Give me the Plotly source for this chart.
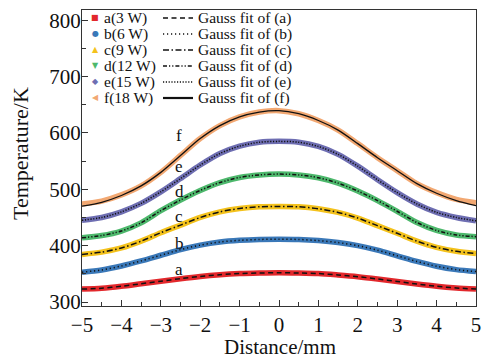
import plotly.graph_objects as go

distance = [-5, -4.5, -4, -3.5, -3, -2.5, -2, -1.5, -1, -0.5, 0,
            0.5, 1, 1.5, 2, 2.5, 3, 3.5, 4, 4.5, 5]

temp_a = [323, 324.5, 328, 332.5, 337, 341.5, 345.5, 348.5, 350.5, 351.5, 352,
          351.5, 350.5, 348, 345, 341, 336.5, 332, 328, 325, 323]
temp_b = [353, 357, 364, 373, 383, 393, 401, 406.5, 409.5, 411, 411.5,
          411, 409, 405.5, 400, 392, 382, 372, 363.5, 357.5, 354]
temp_c = [384.5, 388.5, 396, 408, 423, 436.5, 450, 460, 466, 469, 469.5,
          469, 465.5, 459, 449, 435.5, 422, 408, 397, 390, 386]
temp_d = [414, 418, 426, 440.5, 462, 481, 498, 512, 521, 525.5, 527,
          525.5, 520.5, 511, 497, 480, 461, 441, 427, 419, 416]
temp_e = [445, 450, 460, 475, 495.5, 519, 543, 563.5, 576.5, 583.5, 585,
          583.5, 576, 562, 541, 517, 494, 474, 459, 450, 444]
temp_f = [474, 479, 490, 506, 530, 560, 590, 613, 628.5, 637, 639.5,
          634, 622, 605, 581, 556, 533, 510, 494, 482, 476]
fit_f = [470, 477, 489, 506, 530, 560, 590, 613, 628.5, 637, 639.5,
         634, 622, 605, 581, 556, 533, 510, 493, 480, 471]

series_names = ["a(3 W)", "b(6 W)", "c(9 W)", "d(12 W)", "e(15 W)", "f(18 W)"]
fit_names = ["Gauss fit of (a)", "Gauss fit of (b)", "Gauss fit of (c)",
             "Gauss fit of (d)", "Gauss fit of (e)", "Gauss fit of (f)"]
curve_letters = ["a", "b", "c", "d", "e", "f"]
label_temps = [358, 404, 452, 496, 540, 596]
label_x = -2.53
x_title = "Distance/mm"
y_title = "Temperature/K"

colors = ["#E2282C", "#3A78B8", "#F4C21C", "#4DB86C", "#6E6EB2", "#F2A872"]
symbols = ["■", "●", "▲", "▼", "◆", "◀"]
dashes = ["5px,3.5px", "1.2px,2.8px", "6px,2.5px,1.5px,2.5px",
          "4px,2px,1.2px,2px,1.2px,2px", "1.2px,1.6px", "solid"]

data_series = [temp_a, temp_b, temp_c, temp_d, temp_e, temp_f]
fit_series = [temp_a, temp_b, temp_c, temp_d, temp_e, fit_f]

FONT = "Liberation Serif"
fig = go.Figure()

for ys, col in zip(data_series, colors):
    fig.add_trace(go.Scatter(x=distance, y=ys, mode="lines",
                             line=dict(color=col, width=5.5, shape="spline", smoothing=0.8),
                             showlegend=False, hoverinfo="skip"))
for ys, dsh in zip(fit_series, dashes):
    fig.add_trace(go.Scatter(x=distance, y=ys, mode="lines",
                             line=dict(color="#111111", width=1.3 if dsh == "solid" else 1.5,
                                       dash=dsh, shape="spline", smoothing=0.8),
                             showlegend=False, hoverinfo="skip"))

# curve letters
for letter, ty in zip(curve_letters, label_temps):
    fig.add_annotation(x=label_x, y=ty, text=letter, showarrow=False,
                       font=dict(family=FONT, size=17, color="#111111"))

# pixel -> paper helpers (plot area 82..476 x 10..306)
x0, y0 = 82, 306
pw, ph = 394, 296
def px(X):
    return (X - x0) / pw
def py(Y):
    return (y0 - Y) / ph

# manual legend (two columns)
for i in range(6):
    yy = py(18 + 16 * i)
    fig.add_annotation(xref="paper", yref="paper", x=px(95), y=yy, text=symbols[i],
                       showarrow=False, xanchor="center", yanchor="middle",
                       font=dict(family="DejaVu Sans", size=8, color=colors[i]))
    fig.add_annotation(xref="paper", yref="paper", x=px(103), y=yy, text=series_names[i],
                       showarrow=False, xanchor="left", yanchor="middle", borderpad=0,
                       font=dict(family=FONT, size=15.5, color="#111111"))
    fig.add_shape(type="line", xref="paper", yref="paper",
                  x0=px(163), x1=px(193), y0=yy, y1=yy,
                  line=dict(color="#111111", width=2.2 if dashes[i] == "solid" else 1.3,
                            dash=dashes[i]))
    fig.add_annotation(xref="paper", yref="paper", x=px(197), y=yy, text=fit_names[i],
                       showarrow=False, xanchor="left", yanchor="middle", borderpad=0,
                       font=dict(family=FONT, size=15.5, color="#111111"))

# axis titles
fig.add_annotation(xref="paper", yref="paper", x=px(280), y=py(347), text=x_title,
                   showarrow=False, xanchor="center", yanchor="middle", borderpad=0,
                   font=dict(family=FONT, size=21, color="#111111"))
fig.add_annotation(xref="paper", yref="paper", x=px(20), y=py(154), text=y_title,
                   textangle=-90, showarrow=False, xanchor="center", yanchor="middle",
                   borderpad=0, font=dict(family=FONT, size=22, color="#111111"))

axis_common = dict(showline=True, linecolor="#333333", linewidth=1.3, mirror=True,
                   showgrid=False, zeroline=False, ticks="inside", ticklen=6,
                   tickwidth=1.2, tickcolor="#333333", automargin=False,
                   tickfont=dict(family=FONT, size=21, color="#111111"))

fig.update_xaxes(range=[-5, 5], dtick=1, tick0=0, ticklabelstandoff=0,
                 minor=dict(dtick=0.5, ticks="inside", ticklen=3.5, tickwidth=1.1,
                            tickcolor="#333333", showgrid=False),
                 **axis_common)
fig.update_yaxes(range=[293, 818], tickvals=[300, 400, 500, 600, 700, 800],
                 ticklabelstandoff=-4,
                 minor=dict(tickvals=[350, 450, 550, 650, 750], ticks="inside", ticklen=3.5,
                            tickwidth=1.1, tickcolor="#333333", showgrid=False),
                 **axis_common)

fig.update_layout(width=490, height=358, margin=dict(l=82, r=14, t=10, b=52),
                  plot_bgcolor="white", paper_bgcolor="white", showlegend=False)

fig.write_html("out.html", config={"displayModeBar": False},
               post_script="document.body.style.margin='0';")
